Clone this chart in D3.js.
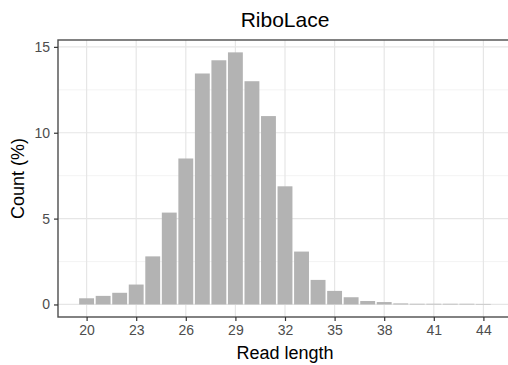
<!DOCTYPE html>
<html>
<head>
<meta charset="utf-8">
<script src="https://cdn.jsdelivr.net/npm/d3@7"></script>
<style>
    body { margin: 0; background: #fff; }
    text { font-family: "Liberation Sans", Arial, sans-serif; }
</style>
</head>
<body>
<svg id="chart" width="508" height="365"></svg>
<script>
// read length distribution (% of reads)
const readLengths = [20, 21, 22, 23, 24, 25, 26, 27, 28, 29, 30, 31, 32,
    33, 34, 35, 36, 37, 38, 39, 40, 41, 42, 43, 44];
const countPct = [0.36, 0.5, 0.68, 1.16, 2.8, 5.35, 8.5, 13.45, 14.22, 14.68,
    13.0, 10.97, 6.88, 3.08, 1.43, 0.79, 0.42, 0.2, 0.14, 0.06, 0.04, 0.04,
    0.04, 0.04, 0.03];
const xTicks = [20, 23, 26, 29, 32, 35, 38, 41, 44];
const yTicks = [0, 5, 10, 15];
const yMinor = [2.5, 7.5, 12.5];

const svg = d3.select("#chart");
const panel = { left: 58, top: 40, right: 512, bottom: 317 };

const x = d3.scaleLinear().domain([18.27, 45.73]).range([panel.left, panel.right]);
const y = d3.scaleLinear().domain([-0.73, 15.4]).range([panel.bottom, panel.top]);
const barW = (x(1) - x(0)) * 0.9;

// panel background + grid
svg.append("rect")
    .attr("x", panel.left).attr("y", panel.top)
    .attr("width", panel.right - panel.left)
    .attr("height", panel.bottom - panel.top)
    .attr("fill", "#fff");

const grid = svg.append("g").attr("id", "grid");
grid.selectAll("line.minor-y")
    .data(yMinor)
    .enter()
    .append("line")
    .attr("x1", panel.left).attr("x2", panel.right)
    .attr("y1", (d) => y(d)).attr("y2", (d) => y(d))
    .attr("stroke", "#f0f0f0")
    .attr("stroke-width", 0.8);
grid.selectAll("line.major-y")
    .data(yTicks)
    .enter()
    .append("line")
    .attr("x1", panel.left).attr("x2", panel.right)
    .attr("y1", (d) => y(d)).attr("y2", (d) => y(d))
    .attr("stroke", "#e6e6e6")
    .attr("stroke-width", 1.2);
grid.selectAll("line.major-x")
    .data(xTicks)
    .enter()
    .append("line")
    .attr("x1", (d) => x(d)).attr("x2", (d) => x(d))
    .attr("y1", panel.top).attr("y2", panel.bottom)
    .attr("stroke", "#e6e6e6")
    .attr("stroke-width", 1.2);

// bars
svg.append("g")
    .attr("id", "bars")
    .selectAll("rect")
    .data(readLengths)
    .enter()
    .append("rect")
    .attr("x", (d) => x(d) - barW / 2)
    .attr("width", barW)
    .attr("y", (d, i) => y(countPct[i]))
    .attr("height", (d, i) => y(0) - y(countPct[i]))
    .attr("fill", "#b3b3b3");

// panel border
svg.append("rect")
    .attr("x", panel.left).attr("y", panel.top)
    .attr("width", panel.right - panel.left)
    .attr("height", panel.bottom - panel.top)
    .attr("fill", "none")
    .attr("stroke", "#4d4d4d")
    .attr("stroke-width", 1.4);

// axes
const xAxis = svg.append("g")
    .attr("transform", `translate(0,${panel.bottom})`)
    .call(d3.axisBottom(x).tickValues(xTicks).tickSize(4).tickPadding(4));
const yAxis = svg.append("g")
    .attr("transform", `translate(${panel.left},0)`)
    .call(d3.axisLeft(y).tickValues(yTicks).tickSize(4).tickPadding(4));
[xAxis, yAxis].forEach((a) => {
    a.select(".domain").remove();
    a.selectAll(".tick line").attr("stroke", "#333").attr("stroke-width", 1.2);
    a.selectAll(".tick text")
        .attr("fill", "#4d4d4d")
        .style("font-size", "14px")
        .style("font-family", "'Liberation Sans', Arial, sans-serif");
});

// titles
svg.append("text")
    .attr("x", (panel.left + panel.right) / 2)
    .attr("y", 27)
    .attr("text-anchor", "middle")
    .style("font-size", "21px")
    .attr("fill", "#000")
    .text("RiboLace");

svg.append("text")
    .attr("x", (panel.left + panel.right) / 2)
    .attr("y", 359)
    .attr("text-anchor", "middle")
    .style("font-size", "18px")
    .attr("fill", "#000")
    .text("Read length");

svg.append("text")
    .attr("transform", `translate(24,${(panel.top + panel.bottom) / 2}) rotate(-90)`)
    .attr("text-anchor", "middle")
    .style("font-size", "18px")
    .attr("fill", "#000")
    .text("Count (%)");
</script>
</body>
</html>
